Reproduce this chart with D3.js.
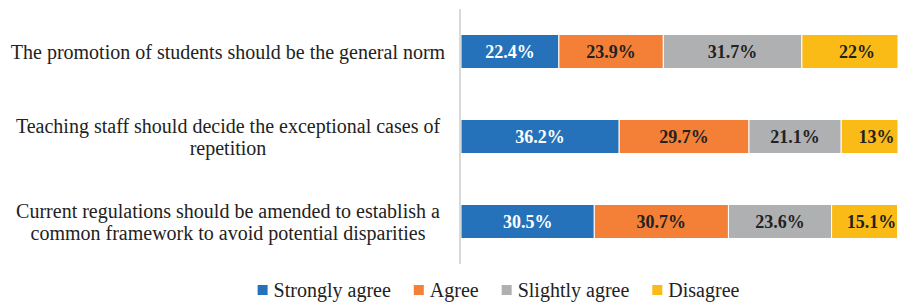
<!DOCTYPE html>
<html>
<head>
<meta charset="utf-8">
<script src="https://cdn.jsdelivr.net/npm/d3@7"></script>
<style>
  body { margin: 0; background: #fff; }
  svg { display: block; font-family: "Liberation Serif", "Times New Roman", serif; }
</style>
</head>
<body>
<script>
// data
const categories = [
  "The promotion of students should be the general norm",
  "Teaching staff should decide the exceptional cases of repetition",
  "Current regulations should be amended to establish a common framework to avoid potential disparities"
]
const seriesNames = ["Strongly agree", "Agree", "Slightly agree", "Disagree"]
const stronglyAgree = [22.4, 36.2, 30.5]
const agree = [23.9, 29.7, 30.7]
const slightlyAgree = [31.7, 21.1, 23.6]
const disagree = [22, 13, 15.1]
const colors = ["#2572ba", "#f38036", "#afb0b2", "#fbbb16"]

let width = 906
let height = 302
let margin = {top: 9, left: 461, right: 8, bottom: 38}

let svg = d3.select("body").append("svg")
  .attr("width", width)
  .attr("height", height)

let rows = categories.map((c, i) => ({
  cat: c,
  "Strongly agree": stronglyAgree[i],
  "Agree": agree[i],
  "Slightly agree": slightlyAgree[i],
  "Disagree": disagree[i]
}))

let stacked = d3.stack().keys(seriesNames)(rows)

let x = d3.scaleLinear()
  .domain([0, 100])
  .range([margin.left, width - margin.right])

let y = d3.scaleBand()
  .domain(categories)
  .range([margin.top, height - margin.bottom])
  .paddingInner(0.6)
  .paddingOuter(0.3)

// bars
let groups = svg.append("g")
  .selectAll("g")
  .data(stacked)
  .enter()
  .append("g")
    .attr("fill", (d, i) => colors[i])

groups.selectAll("rect")
  .data(d => d)
  .enter()
  .append("rect")
    .attr("x", d => x(d[0]))
    .attr("y", d => y(d.data.cat))
    .attr("width", d => x(d[1]) - x(d[0]))
    .attr("height", y.bandwidth())
    .attr("stroke", "#fff")
    .attr("stroke-width", 1)

// value labels
groups.each(function(s, si) {
  d3.select(this).selectAll("text")
    .data(s)
    .enter()
    .append("text")
      .attr("x", d => (x(d[0]) + x(d[1])) / 2 + (si == 3 ? 7 : 0))
      .attr("y", d => y(d.data.cat) + y.bandwidth() / 2)
      .attr("dy", "0.35em")
      .attr("text-anchor", "middle")
      .attr("font-weight", "bold")
      .attr("font-size", "18px")
      .attr("fill", si == 0 ? "#fff" : "#222")
      .text(d => (d[1] - d[0]).toFixed(1).replace(/\.0$/, "") + "%")
})

// axis line
let yAxis = svg.append("g")
  .attr("transform", `translate(${margin.left - 1},0)`)
  .call(d3.axisLeft(y).tickSize(0).tickFormat(""))
yAxis.select(".domain")
  .attr("stroke", "#d9d9d9")
  .attr("stroke-width", 2)
  .attr("d", `M0,${margin.top}V${height - margin.bottom}`)

// category labels, wrapped
let labelCenter = 228
let maxWidth = 445
let lineH = 22

categories.forEach(c => {
  let t = svg.append("text")
    .attr("font-size", "20px")
    .attr("fill", "#222")
    .attr("text-anchor", "middle")
  let words = c.split(" ")
  let lines = []
  let line = []
  let probe = t.append("tspan")
  words.forEach(w => {
    line.push(w)
    probe.text(line.join(" "))
    if (probe.node().getComputedTextLength() > maxWidth && line.length > 1) {
      line.pop()
      lines.push(line.join(" "))
      line = [w]
    }
  })
  lines.push(line.join(" "))
  probe.remove()
  let cy = y(c) + y.bandwidth() / 2
  let startY = cy - (lines.length - 1) * lineH / 2
  lines.forEach((l, i) => {
    t.append("tspan")
      .attr("x", labelCenter)
      .attr("y", startY + i * lineH)
      .attr("dy", "0.35em")
      .text(l)
  })
})

// legend
let legend = svg.append("g")
let lx = 0
seriesNames.forEach((name, i) => {
  let g = legend.append("g").attr("transform", `translate(${lx},0)`)
  g.append("rect")
    .attr("x", 0)
    .attr("y", -5)
    .attr("width", 10)
    .attr("height", 10)
    .attr("fill", colors[i])
  let t = g.append("text")
    .attr("x", 16)
    .attr("dy", "0.35em")
    .attr("font-size", "20px")
    .attr("fill", "#222")
    .text(name)
  lx += 16 + t.node().getComputedTextLength() + 23
})
let legendW = lx - 23
legend.attr("transform", `translate(${498.5 - legendW / 2},290)`)
</script>
</body>
</html>
